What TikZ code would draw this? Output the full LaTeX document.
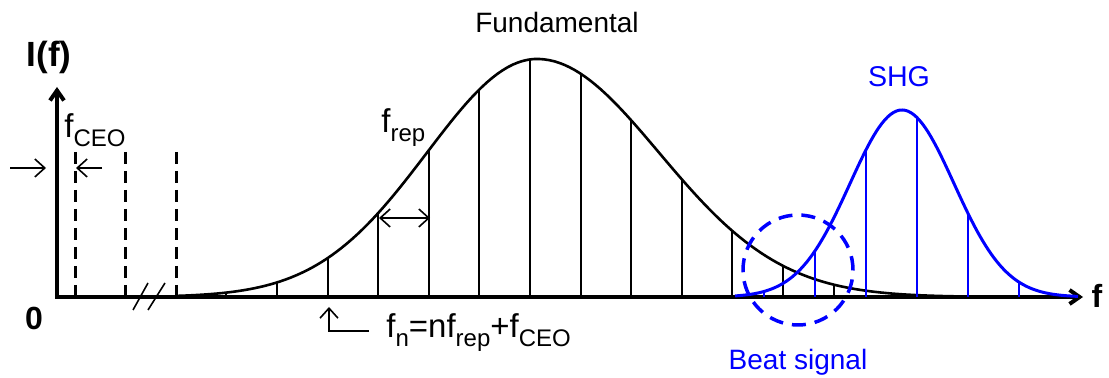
\documentclass[tikz,border=0pt]{standalone}
\usepackage{fontspec}
\setmainfont{Liberation Sans}
\usepackage{xcolor}
\usetikzlibrary{arrows.meta, calc}
\definecolor{shgblue}{RGB}{0,0,255}
\newcommand{\lowsub}[1]{\raisebox{-4.5pt}{\fontsize{12}{13}\selectfont #1}}

\begin{document}
\begin{tikzpicture}[x=0.5pt, y=-0.5pt, >={Straight Barb[length=5pt,width=9pt]},
  every node/.style={font=\fontsize{16.5}{18}\selectfont, inner sep=0pt},
  axisline/.style={line width=2pt, -{Straight Barb[length=5pt,width=7pt]}},
  fundcurve/.style={line width=1.3pt},
  combline/.style={line width=1pt},
  ceoline/.style={line width=1.5pt, dash pattern=on 6pt off 3.5pt},
  shgcurve/.style={shgblue, line width=1.5pt},
  shgline/.style={shgblue, line width=1pt},
  smallarrow/.style={line width=0.8pt},
  beatring/.style={draw=shgblue, circle, line width=1.75pt, dash pattern=on 7pt off 4.5pt, minimum size=55pt},
  declare function={fund(\x)=238*exp(-0.5*((\x-537)/ifthenelse(\x<537,110,122))^2);
                    shg(\x)=187*exp(-0.5*((\x-902)/52)^2);}]
  \useasboundingbox (0,0) rectangle (1109,378);
  \coordinate (origin) at (57,297);
  \coordinate (ytip) at (57,87);
  \coordinate (xtip) at (1083,297);
  \coordinate (ceoA) at (10,168);
  \coordinate (ceoB) at (46,168);
  \coordinate (ceoC) at (102,168);
  \coordinate (ceoD) at (76,168);
  \coordinate (repA) at (379,218);
  \coordinate (repB) at (430,218);
  \coordinate (fnA) at (369,331);
  \coordinate (fnB) at (329,307);

  \foreach \xd in {75,125,176} \draw[ceoline] (\xd,152) -- (\xd,297);
  \draw[fundcurve] plot[domain=176:1000, samples=160] (\x,{297-fund(\x)});
  \foreach \k [evaluate=\k as \xk using 74.6+50.6*\k] in {3,...,15}
    \draw[combline] (\xk,297) -- (\xk,{297-fund(\xk)});
  \draw[axisline, {Straight Barb[length=5pt,width=7pt]}-{Straight Barb[length=5pt,width=7pt]}] (ytip) |- (xtip);
  \draw[smallarrow] (133,310) -- (148,283) (148,310) -- (165,283);
  \draw[shgcurve] plot[domain=735:1078, samples=120] (\x,{297-shg(\x)});
  \foreach \xb in {764,815,...,1019}
    \draw[shgline] (\xb,297) -- (\xb,{297-shg(\xb)});
  \node[beatring] (beat) at (798,270) {};

  \draw[smallarrow, ->] (ceoA) -- (ceoB);
  \draw[smallarrow, ->] (ceoC) -- (ceoD);
  \draw[smallarrow, <->] (repA) -- (repB);
  \draw[smallarrow, ->] (fnA) -| (fnB);

  \node[font=\fontsize{17.5}{20}\selectfont\bfseries, anchor=base] (ilabel) at (49,67) {I(f)};
  \node[font=\fontsize{16}{18}\selectfont\bfseries, anchor=base] (zero) at (34,330) {0};
  \node[font=\fontsize{16}{18}\selectfont\bfseries, anchor=base] (flabel) at (1097,308) {f};
  \node[anchor=base west] (ceolabel) at (64,138) {f\lowsub{CEO}};
  \node[anchor=base west] (replabel) at (381,133) {f\lowsub{rep}};
  \node[anchor=base west] (fnlabel) at (386,338) {f\lowsub{n}=nf\lowsub{rep}+f\lowsub{CEO}};
  \node[font=\fontsize{14}{16}\selectfont, anchor=base] (fundlabel) at (557,33) {Fundamental};
  \node[font=\fontsize{14.3}{16}\selectfont, text=shgblue, anchor=base] (shglabel) at (899,87) {SHG};
  \node[font=\fontsize{14}{16}\selectfont, text=shgblue, anchor=base] (beatlabel) at (798,370) {Beat signal};
\end{tikzpicture}
\end{document}
